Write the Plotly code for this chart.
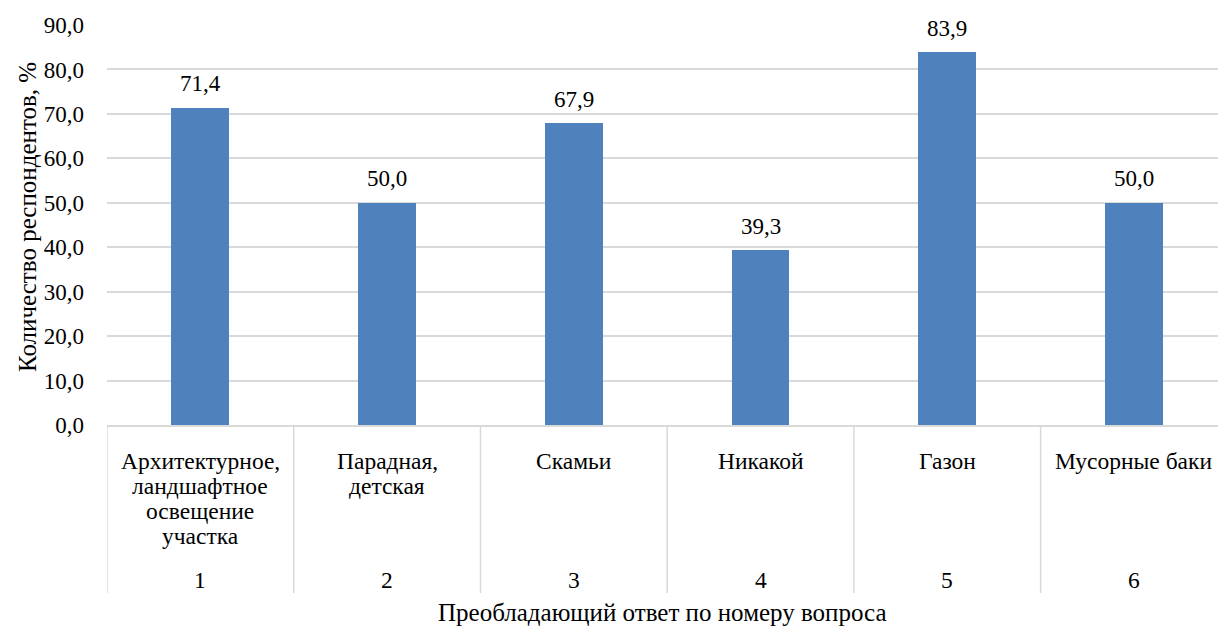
import plotly.graph_objects as go

categories = ["Архитектурное,<br>ландшафтное<br>освещение<br>участка",
              "Парадная,<br>детская", "Скамьи", "Никакой", "Газон", "Мусорные баки"]
question_numbers = ["1", "2", "3", "4", "5", "6"]
values = [71.4, 50.0, 67.9, 39.3, 83.9, 50.0]
y_ticks = [0, 10, 20, 30, 40, 50, 60, 70, 80, 90]

FONT = "Liberation Serif"
GRID = "#d9d9d9"
FS = 23
FS_CAT = 23.5
FS_TITLE = 25
xs = list(range(len(categories)))

fig = go.Figure()
fig.add_trace(go.Bar(
    x=xs, y=values, width=0.31,
    marker=dict(color="#4F81BD", line=dict(width=0)),
    hoverinfo="x+y",
))

shapes = []
for i in range(len(categories) + 1):
    shapes.append(dict(type="line", xref="x", yref="paper", x0=i - 0.5, x1=i - 0.5,
                       y0=0, y1=-0.42, line=dict(color=GRID, width=1.5)))

annotations = []
# data labels
for i, v in enumerate(values):
    annotations.append(dict(x=i, y=v, xref="x", yref="y", text=f"{v:.1f}".replace(".", ","),
                            showarrow=False, yanchor="middle", yshift=24,
                            font=dict(family=FONT, size=FS, color="#000")))
# category labels (one annotation per line for tight line spacing)
for i, name in enumerate(categories):
    for k, line in enumerate(name.split("<br>")):
        annotations.append(dict(x=i, y=0, xref="x", yref="paper", text=line, showarrow=False,
                                yanchor="middle", yshift=-(36 + 25 * k),
                                font=dict(family=FONT, size=FS_CAT, color="#000")))
# question numbers
for i, n in enumerate(question_numbers):
    annotations.append(dict(x=i, y=0, xref="x", yref="paper", text=n, showarrow=False,
                            yanchor="middle", yshift=-155,
                            font=dict(family=FONT, size=FS_CAT, color="#000")))
# axis titles
annotations.append(dict(x=0.5, y=0, xref="paper", yref="paper",
                        text="Преобладающий ответ по номеру вопроса", showarrow=False,
                        yanchor="middle", yshift=-187,
                        font=dict(family=FONT, size=FS_TITLE, color="#000")))
annotations.append(dict(x=0, y=0.5, xref="paper", yref="paper",
                        text="Количество респондентов, %", showarrow=False, textangle=-90,
                        xanchor="center", yanchor="middle", xshift=-80, yshift=8,
                        font=dict(family=FONT, size=FS_TITLE, color="#000")))

fig.update_layout(
    width=1218, height=628,
    margin=dict(l=107, r=0, t=25, b=203),
    plot_bgcolor="white", paper_bgcolor="white",
    separators=", ",
    showlegend=False,
    bargap=0,
    shapes=shapes,
    annotations=annotations,
    font=dict(family=FONT, size=FS, color="#000"),
)
fig.update_xaxes(
    tickmode="array", tickvals=xs, ticktext=[""] * len(xs),
    range=[-0.5, 5.45], showgrid=False, zeroline=False,
    showline=True, linecolor=GRID, linewidth=1.5, ticks="",
)
fig.update_yaxes(
    range=[0, 90], tickvals=y_ticks, tickformat=".1f",
    showgrid=True, gridcolor=GRID, gridwidth=1.5,
    zeroline=False, showline=False, ticks="", ticklabelstandoff=22,
    tickfont=dict(family=FONT, size=FS, color="#000"),
)

fig.write_html("out.html", config={"displayModeBar": False},
               post_script="document.body.style.margin='0';document.body.style.overflow='hidden';")
